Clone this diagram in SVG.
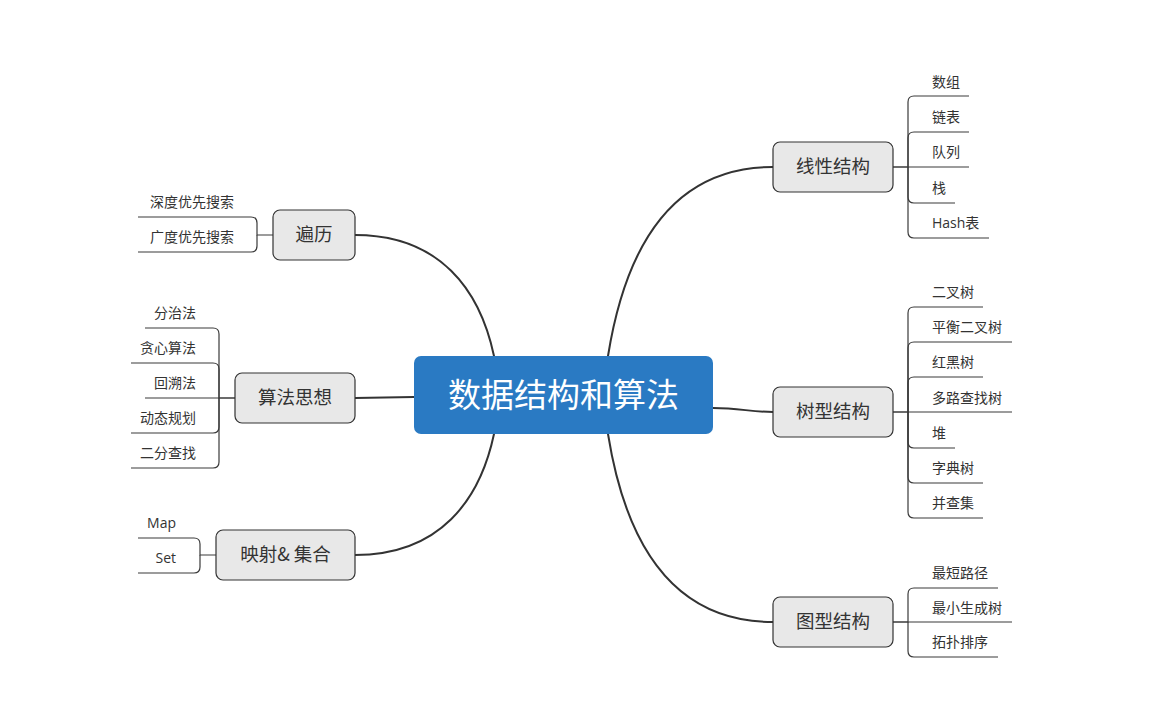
<svg xmlns="http://www.w3.org/2000/svg" width="1157" height="717" viewBox="0 0 1157 717">
<style>
.main{fill:none;stroke:#333;stroke-width:2;stroke-linecap:round}
.leafc{fill:none;stroke:#3a3a3a;stroke-width:1.2}
.br rect{fill:#e8e8e8;stroke:#333;stroke-width:1.2}
.br text{font-family:"Noto Sans CJK SC","Open Sans",sans-serif;font-size:18.5px;fill:#333;text-anchor:middle}
.lf{font-family:"Open Sans","Noto Sans CJK SC",sans-serif;font-size:14px;fill:#333}
.le{text-anchor:end}
</style>
<rect width="1157" height="717" fill="#fff"/>
<g id="connectors">
<path class="main" d="M608 356 C625 250 670 167 773 167"/>
<path class="main" d="M713 408 C740 408 750 412 773 412"/>
<path class="main" d="M608 434 C625 540 670 622 773 622"/>
<path class="main" d="M494 356 C480 290 440 235 355 235"/>
<path class="main" d="M414 397 L355 398"/>
<path class="main" d="M494 434 C480 500 440 555 355 555"/>
<!-- 线性结构 leaves -->
<path class="leafc" d="M893 167 H908 V102 Q908 96 914 96 H969"/>
<path class="leafc" d="M908 167 V138 Q908 132 914 132 H969"/>
<path class="leafc" d="M893 167 H969"/>
<path class="leafc" d="M908 167 V197 Q908 203 914 203 H955"/>
<path class="leafc" d="M908 167 V232 Q908 238 914 238 H989"/>
<!-- 树型结构 leaves -->
<path class="leafc" d="M893 412 H908 V313 Q908 307 914 307 H983"/>
<path class="leafc" d="M908 412 V348 Q908 342 914 342 H1012"/>
<path class="leafc" d="M908 412 V383 Q908 377 914 377 H983"/>
<path class="leafc" d="M893 412 H1012"/>
<path class="leafc" d="M908 412 V442 Q908 448 914 448 H955"/>
<path class="leafc" d="M908 412 V477 Q908 483 914 483 H983"/>
<path class="leafc" d="M908 412 V512 Q908 518 914 518 H983"/>
<!-- 图型结构 leaves -->
<path class="leafc" d="M893 622 H908 V594 Q908 588 914 588 H998"/>
<path class="leafc" d="M893 622 H1012"/>
<path class="leafc" d="M908 622 V651 Q908 657 914 657 H998"/>
<!-- 遍历 leaves -->
<path class="leafc" d="M273 235 H257 V223 Q257 217 251 217 H138"/>
<path class="leafc" d="M257 235 V246 Q257 252 251 252 H138"/>
<!-- 算法思想 leaves -->
<path class="leafc" d="M235 398 H219 V334 Q219 328 213 328 H145"/>
<path class="leafc" d="M219 398 V369 Q219 363 213 363 H131"/>
<path class="leafc" d="M235 398 H145"/>
<path class="leafc" d="M219 398 V427 Q219 433 213 433 H131"/>
<path class="leafc" d="M219 398 V462 Q219 468 213 468 H131"/>
<!-- 映射 leaves -->
<path class="leafc" d="M216 555 H200 V544 Q200 538 194 538 H138"/>
<path class="leafc" d="M200 555 V567 Q200 573 194 573 H138"/>
</g>
<g id="center">
<rect x="414" y="356" width="299" height="78" rx="7" fill="#2a7ac3"/>
<text x="563.5" y="407" font-family="Noto Sans CJK SC,sans-serif" font-size="33" fill="#fff" text-anchor="middle">数据结构和算法</text>
</g>
<g id="n-linear" class="br"><rect x="773" y="142" width="120" height="50" rx="7"/><text x="833" y="173">线性结构</text></g>
<g id="n-tree" class="br"><rect x="773" y="387" width="120" height="50" rx="7"/><text x="833" y="418">树型结构</text></g>
<g id="n-graph" class="br"><rect x="773" y="597" width="120" height="50" rx="7"/><text x="833" y="628">图型结构</text></g>
<g id="n-traverse" class="br"><rect x="273" y="210" width="82" height="50" rx="7"/><text x="314" y="241">遍历</text></g>
<g id="n-algo" class="br"><rect x="235" y="373" width="120" height="50" rx="7"/><text x="295" y="404">算法思想</text></g>
<g id="n-map" class="br"><rect x="216" y="530" width="139" height="50" rx="7"/><text x="285.5" y="561">映射&amp; 集合</text></g>
<g id="leaves-linear">
<text class="lf" x="932" y="87">数组</text>
<text class="lf" x="932" y="122">链表</text>
<text class="lf" x="932" y="157">队列</text>
<text class="lf" x="932" y="193">栈</text>
<text class="lf" x="932" y="228">Hash表</text>
</g>
<g id="leaves-tree">
<text class="lf" x="932" y="297">二叉树</text>
<text class="lf" x="932" y="332">平衡二叉树</text>
<text class="lf" x="932" y="367">红黑树</text>
<text class="lf" x="932" y="403">多路查找树</text>
<text class="lf" x="932" y="438">堆</text>
<text class="lf" x="932" y="473">字典树</text>
<text class="lf" x="932" y="508">并查集</text>
</g>
<g id="leaves-graph">
<text class="lf" x="932" y="578">最短路径</text>
<text class="lf" x="932" y="613">最小生成树</text>
<text class="lf" x="932" y="647">拓扑排序</text>
</g>
<g id="leaves-traverse">
<text class="lf le" x="234" y="207">深度优先搜索</text>
<text class="lf le" x="234" y="242">广度优先搜索</text>
</g>
<g id="leaves-algo">
<text class="lf le" x="196" y="318">分治法</text>
<text class="lf le" x="196" y="353">贪心算法</text>
<text class="lf le" x="196" y="388">回溯法</text>
<text class="lf le" x="196" y="423">动态规划</text>
<text class="lf le" x="196" y="458">二分查找</text>
</g>
<g id="leaves-map">
<text class="lf le" x="176" y="528">Map</text>
<text class="lf le" x="176" y="563">Set</text>
</g>
</svg>
